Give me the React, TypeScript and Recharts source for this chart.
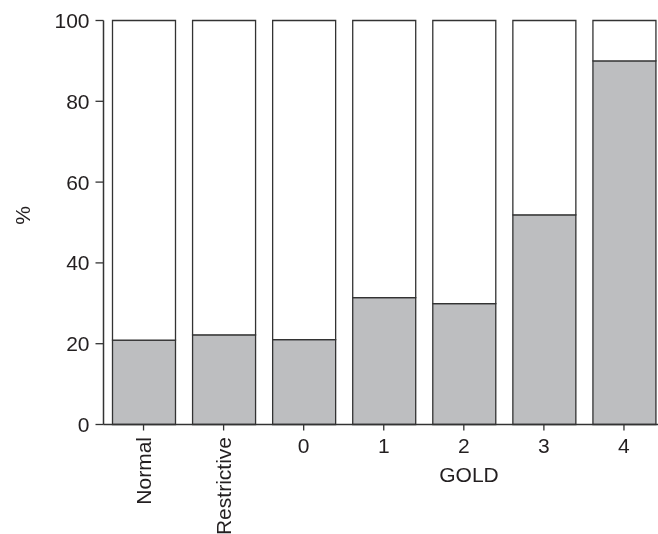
import React from 'react';
import { BarChart, Bar, XAxis, YAxis } from 'recharts';

const categories = ['Normal', 'Restrictive', '0', '1', '2', '3', '4'];
const positiveValues = [20.9, 22.2, 21.0, 31.4, 29.9, 51.9, 90.0];
const yTicks = [0, 20, 40, 60, 80, 100];

const data = categories.map((c, i) => ({
  name: c,
  pos: positiveValues[i],
  rest: 100 - positiveValues[i],
}));

const FONT = '"Liberation Sans", Arial, sans-serif';
const TEXT = '#231f20';
const LINE = '#333333';
const FS = 21;

const XTick = (props: any) => {
  const { x, y, payload } = props;
  const v = String(payload.value);
  if (v.length > 1) {
    const ty = y + 4.5;
    return (
      <text
        x={x}
        y={ty}
        transform={`rotate(-90, ${x}, ${ty})`}
        textAnchor="end"
        dominantBaseline="central"
        fontFamily={FONT}
        fontSize={FS}
        fill={TEXT}
      >
        {v}
      </text>
    );
  }
  return (
    <text x={x} y={y + 20} textAnchor="middle" fontFamily={FONT} fontSize={FS} fill={TEXT}>
      {v}
    </text>
  );
};

const GoldLabel = (props: any) => {
  const vb = props.viewBox;
  return (
    <text
      x={vb.x + 365.5}
      y={vb.y + 57.5}
      textAnchor="middle"
      fontFamily={FONT}
      fontSize={FS}
      fill={TEXT}
    >
      GOLD
    </text>
  );
};

const PctLabel = (props: any) => {
  const vb = props.viewBox;
  const x = vb.x + 14;
  const y = vb.y + vb.height / 2 - 7;
  return (
    <text
      x={x}
      y={y}
      transform={`rotate(-90, ${x}, ${y})`}
      textAnchor="middle"
      dominantBaseline="central"
      fontFamily={FONT}
      fontSize={FS}
      fill={TEXT}
    >
      %
    </text>
  );
};

export default function App() {
  return (
    <div style={{ position: 'fixed', left: 8, top: 8, width: 650, height: 526, overflow: 'hidden' }}>
      <BarChart
        width={656}
        height={526}
        data={data}
        margin={{ top: 12.5, right: 0, bottom: 0, left: 0 }}
      >
        <XAxis
          dataKey="name"
          height={109.5}
          tick={<XTick />}
          tickLine={{ stroke: LINE, strokeWidth: 1.3 }}
          tickSize={6}
          axisLine={{ stroke: LINE, strokeWidth: 1.5 }}
          interval={0}
          label={<GoldLabel />}
        />
        <YAxis
          width={95.5}
          domain={[0, 100]}
          ticks={yTicks}
          tickSize={8}
          tickMargin={6}
          tick={{ fontFamily: FONT, fontSize: FS, fill: TEXT }}
          tickLine={{ stroke: LINE, strokeWidth: 1.3 }}
          axisLine={{ stroke: LINE, strokeWidth: 1.5 }}
          label={<PctLabel />}
        />
        <Bar dataKey="pos" stackId="a" fill="#bdbec0" stroke={LINE} strokeWidth={1.3} barSize={63} isAnimationActive={false} />
        <Bar dataKey="rest" stackId="a" fill="#ffffff" stroke={LINE} strokeWidth={1.3} barSize={63} isAnimationActive={false} />
      </BarChart>
    </div>
  );
}
